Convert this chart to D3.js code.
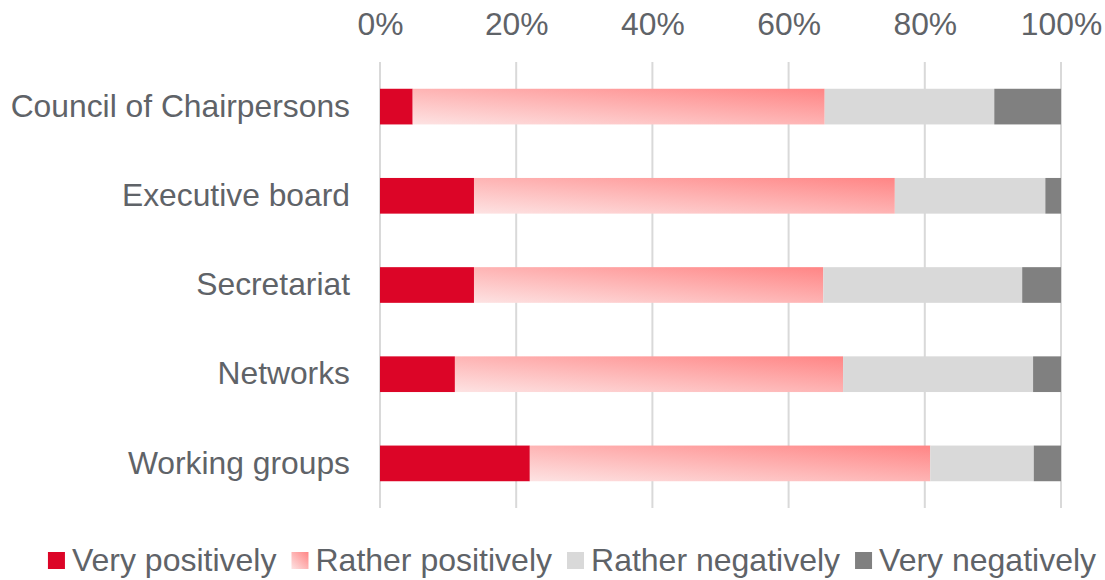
<!DOCTYPE html>
<html>
<head>
<meta charset="utf-8">
<script src="https://cdn.jsdelivr.net/npm/d3@7"></script>
<style>
	html, body { margin: 0; padding: 0; background: #fff; }
	text { font-family: "Liberation Sans", Arial, sans-serif; fill: #5f6368; }
</style>
</head>
<body>
<svg id="chart"></svg>
<script>
//
// 100% stacked horizontal bar chart
//
const categories = ["Council of Chairpersons", "Executive board", "Secretariat", "Networks", "Working groups"];
const seriesNames = ["Very positively", "Rather positively", "Rather negatively", "Very negatively"];
const veryPositively = [4.8, 13.8, 13.8, 11.0, 22.0];
const ratherPositively = [60.5, 61.8, 51.3, 57.0, 58.8];
const ratherNegatively = [24.9, 22.1, 29.2, 27.9, 15.2];
const veryNegatively = [9.8, 2.3, 5.7, 4.1, 4.0];
const tickValues = [0, 20, 40, 60, 80, 100];

const W = 1105, H = 580;
const margin = { top: 62, right: 44, bottom: 72, left: 380 };
const fontSize = 31.8;
const legendFont = 32;

const svg = d3.select("#chart").attr("width", W).attr("height", H);

const defs = svg.append("defs");
const grad = defs.append("linearGradient")
	.attr("id", "rather-pos")
	.attr("x1", "0").attr("y1", "1")
	.attr("x2", "1").attr("y2", "0");
grad.append("stop").attr("offset", "0").attr("stop-color", "#fde3e3");
grad.append("stop").attr("offset", "1").attr("stop-color", "#ff8585");

const colors = ["#dc0527", "url(#rather-pos)", "#d9d9d9", "#808080"];

const rows = categories.map((c, i) => ({
	category: c,
	values: [veryPositively[i], ratherPositively[i], ratherNegatively[i], veryNegatively[i]],
}));

const x = d3.scaleLinear().domain([0, 100]).range([margin.left, W - margin.right]);
const y = d3.scaleBand().domain(categories)
	.range([margin.top, H - margin.bottom])
	.paddingInner(0.6).paddingOuter(0.3);

// gridlines
svg.append("g")
	.selectAll("line")
	.data(tickValues)
	.enter()
	.append("line")
	.attr("x1", (d) => x(d)).attr("x2", (d) => x(d))
	.attr("y1", margin.top).attr("y2", H - margin.bottom)
	.style("stroke", "#d9d9d9")
	.style("stroke-width", "2px");

// top axis labels
const xAxis = svg.append("g")
	.attr("transform", `translate(0,${margin.top - 27})`)
	.call(d3.axisTop(x).tickValues(tickValues).tickFormat((d) => d + "%").tickSize(0).tickPadding(0));
xAxis.select(".domain").remove();
xAxis.selectAll("text").attr("dy", 0).style("font-size", fontSize + "px").style("fill", "#5f6368")
	.style("font-family", '"Liberation Sans", Arial, sans-serif');

// category labels
const yAxis = svg.append("g")
	.attr("transform", `translate(${margin.left - 30},0)`)
	.call(d3.axisLeft(y).tickSize(0).tickPadding(0));
yAxis.select(".domain").remove();
yAxis.selectAll("text").style("font-size", fontSize + "px").style("fill", "#5f6368")
	.style("font-family", '"Liberation Sans", Arial, sans-serif');

// bars
const stack = rows.map((r) => {
	let acc = 0;
	return r.values.map((v, k) => {
		const seg = { category: r.category, k, x0: acc, x1: acc + v };
		acc += v;
		return seg;
	});
});

svg.append("g")
	.selectAll("g")
	.data(stack)
	.enter()
	.append("g")
	.selectAll("rect")
	.data((d) => d)
	.enter()
	.append("rect")
	.attr("x", (d) => x(d.x0))
	.attr("y", (d) => y(d.category))
	.attr("width", (d) => x(d.x1) - x(d.x0))
	.attr("height", y.bandwidth())
	.style("fill", (d) => colors[d.k]);

// legend
const legend = svg.append("g").attr("transform", `translate(0,571)`);
const items = legend.selectAll("g")
	.data(seriesNames)
	.enter()
	.append("g");
items.append("rect")
	.attr("y", -19).attr("width", 17).attr("height", 17)
	.style("fill", (d, i) => colors[i]);
items.append("text")
	.attr("x", 24)
	.attr("y", 0)
	.text((d) => d)
	.style("font-size", legendFont + "px");

const widths = [];
items.each(function () {
	widths.push(this.getBBox().width);
});
const gap = 15;
const total = d3.sum(widths) + gap * (widths.length - 1);
let cx = 572 - total / 2;
items.attr("transform", (d, i) => {
	const t = `translate(${cx},0)`;
	cx += widths[i] + gap;
	return t;
});
</script>
</body>
</html>
